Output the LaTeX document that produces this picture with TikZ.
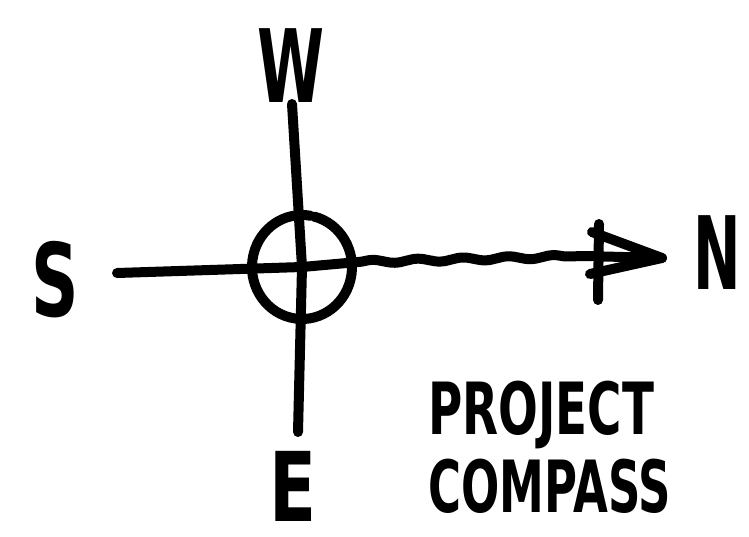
\documentclass[tikz,border=0pt]{standalone}
\usepackage{graphicx}
\usepackage{fontspec}
\setmainfont{DejaVu Sans}
\usetikzlibrary{positioning,calc,decorations.pathmorphing}

\newcommand{\hand}[2]{\scalebox{#1}[1]{#2}}

\tikzset{
  pen/.style={line width=7.5pt, line cap=round, line join=round},
  dirlabel/.style={font=\fontsize{76}{76}\selectfont\bfseries, inner sep=0pt},
  titletext/.style={font=\fontsize{54}{54}\selectfont\bfseries, inner sep=0pt}
}

\begin{document}
\begin{tikzpicture}[x=0.75pt, y=-0.75pt]
  \useasboundingbox (0,0) rectangle (749,536);
  \node[dirlabel] (west) at (291,66) {\hand{0.6}{W}};
  \node[dirlabel] (east) at (293,486) {\scalebox{0.68}[0.95]{E}};
  \node[dirlabel] (south) at (55,280) {\hand{0.65}{S}};
  \node[dirlabel] (north) at (717,253) {\hand{0.56}{N}};

  \coordinate (hub) at (302,267);
  \coordinate (vtop) at (292,104);
  \coordinate (vbot) at (298,432);
  \coordinate (hw) at (117,273);
  \coordinate (hmid) at (358,262);
  \coordinate (hend) at (585,256);
  \coordinate (htip) at (662,258);

  \draw[pen] (vtop) -- (hub) -- (vbot);
  \draw[pen] (hub) ++(-76:50 and 52) arc[start angle=-76, end angle=280, x radius=50, y radius=52];
  \draw[pen] (hw) -- (hub) -- (hmid);
  \draw[pen, decorate, decoration={snake, amplitude=1.3pt, segment length=34pt}] (hmid) -- (hend);
  \draw[pen] (hend) -- (htip);
  \draw[pen] (592,232) -- (htip) -- (590,274);
  \draw[pen] (599,224) -- (598,300);

  \node[titletext, anchor=west] (project) at (428,415) {\hand{0.65}{PROJECT}};
  \node[titletext, below=7pt of project.south west, anchor=north west] (compass) {\hand{0.625}{COMPASS}};
\end{tikzpicture}
\end{document}
